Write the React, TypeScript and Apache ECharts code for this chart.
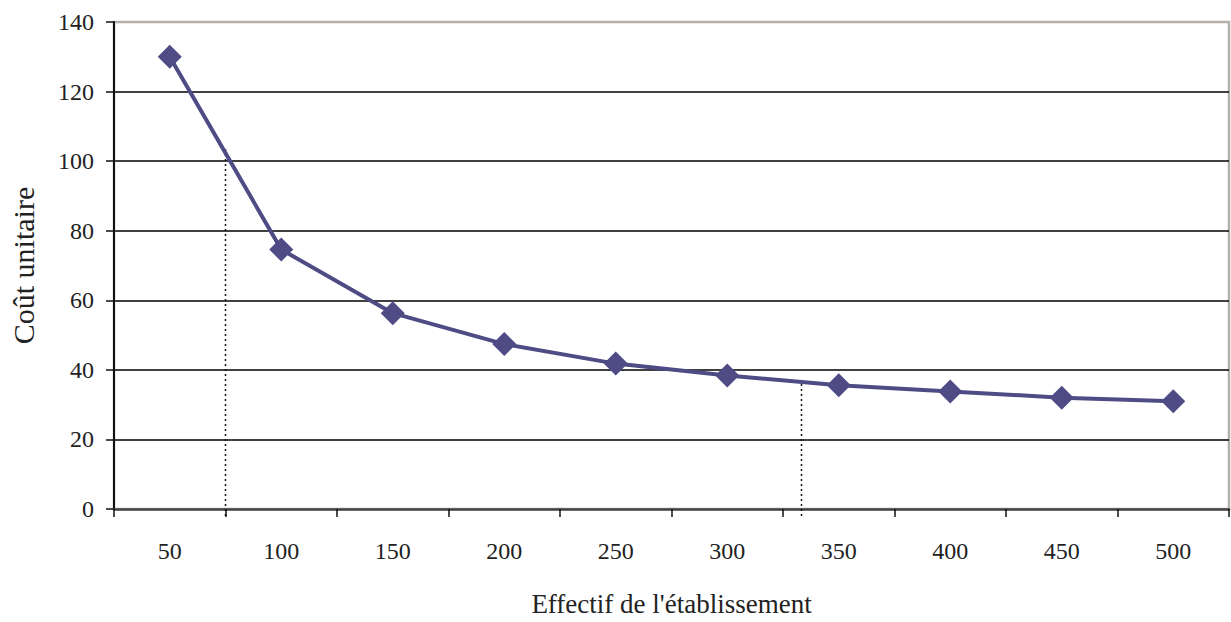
import React, { useEffect, useRef } from "react";
import * as echarts from "echarts";

const categories = ["50", "100", "150", "200", "250", "300", "350", "400", "450", "500"];
const unitCost = [130, 74.6, 56.3, 47.4, 41.8, 38.4, 35.6, 33.8, 32, 31];
const dropLine1 = [[75, -2], [75, 104]];
const dropLine2 = [[333.3, -2], [333.3, 36.6]];

const FONT = "'Liberation Serif', 'Times New Roman', serif";

export default function App() {
  const ref = useRef<HTMLDivElement>(null);
  useEffect(() => {
    if (!ref.current) return;
    const chart = echarts.init(ref.current, null, { renderer: "svg" });
    chart.setOption({
      animation: false,
      backgroundColor: "#ffffff",
      textStyle: { fontFamily: FONT },
      grid: {
        left: 110,
        right: 2,
        top: 22,
        bottom: 109,
        show: true,
        borderColor: "#b5afac",
        borderWidth: 2.5,
        backgroundColor: "transparent",
      },
      xAxis: [
        {
          type: "category",
          data: categories,
          boundaryGap: true,
          name: "Effectif de l'établissement",
          nameLocation: "middle",
          nameGap: 81,
          nameTextStyle: { fontFamily: FONT, fontSize: 27, color: "#222" },
          axisLine: { lineStyle: { color: "#444", width: 2.5 } },
          axisTick: { show: true, length: 8, lineStyle: { color: "#111", width: 1.5 } },
          axisLabel: { fontFamily: FONT, fontSize: 24, color: "#222", margin: 30 },
          splitLine: { show: false },
        },
        {
          type: "value",
          min: 25,
          max: 525,
          show: false,
        },
      ],
      yAxis: {
        type: "value",
        min: 0,
        max: 140,
        interval: 20,
        name: "Coût unitaire",
        nameLocation: "middle",
        nameGap: 76,
        nameTextStyle: { fontFamily: FONT, fontSize: 30, color: "#222" },
        axisLine: { show: true, lineStyle: { color: "#111", width: 2 } },
        axisTick: { show: true, length: 8, lineStyle: { color: "#111", width: 1.5 } },
        axisLabel: { fontFamily: FONT, fontSize: 24, color: "#222", margin: 20 },
        splitLine: {
          show: true,
          showMaxLine: false,
          showMinLine: false,
          lineStyle: { color: "#000", width: 1.6 },
        },
      },
      series: [
        {
          type: "line",
          xAxisIndex: 1,
          data: dropLine1,
          symbol: "none",
          clip: false,
          lineStyle: { color: "#111", width: 1.5, type: [2, 3] },
          z: 1,
        },
        {
          type: "line",
          xAxisIndex: 1,
          data: dropLine2,
          symbol: "none",
          clip: false,
          lineStyle: { color: "#111", width: 1.5, type: [2, 3] },
          z: 1,
        },
        {
          type: "line",
          xAxisIndex: 0,
          data: unitCost,
          symbol: "diamond",
          symbolSize: 24,
          itemStyle: { color: "#4e4b85" },
          lineStyle: { color: "#4e4b85", width: 4 },
          z: 3,
        },
      ],
    });
    return () => chart.dispose();
  }, []);
  return (
    <div
      ref={ref}
      style={{ position: "fixed", left: 0, top: 0, width: 1231, height: 622 }}
    />
  );
}
